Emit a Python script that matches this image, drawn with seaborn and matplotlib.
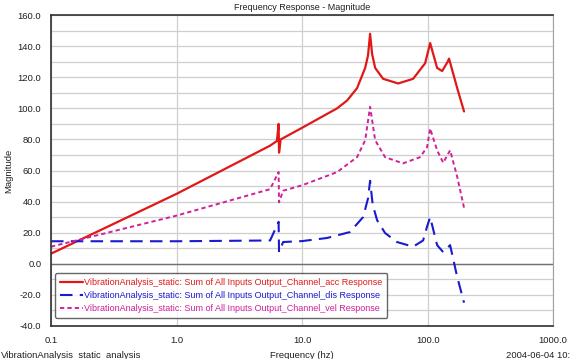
import numpy as np
import pandas as pd
import matplotlib
matplotlib.use("Agg")
import matplotlib.pyplot as plt
import seaborn as sns
from matplotlib.ticker import FixedLocator, MultipleLocator, FormatStrFormatter

# values
acc_freq = [0.1, 1.0, 5.56, 6.3, 6.5, 6.55, 6.75, 10, 19, 22.8, 27.4, 31.8, 33.5,
            34.8, 36.1, 38.2, 44.2, 58.2, 76.6, 95.5, 104.7, 119, 130.5, 145.6,
            148, 172, 195]
acc_mag = [6.5, 45, 76, 79, 90, 71.5, 80, 87.5, 100, 105, 113, 126, 134,
           148, 135, 126, 119, 116, 119, 129, 142, 126, 124, 130.5,
           132, 113, 98]

dis_freq = [0.1, 1.0, 5.56, 6.5, 6.55, 7.06, 10, 15.8, 24, 30.6, 33.5, 34.8,
            36.5, 39.6, 45.8, 57, 76.6, 92, 99, 104.7, 119, 133, 151, 172, 195]
dis_mag = [14.5, 14.5, 15, 27, 7.5, 14, 14.6, 16.6, 20.4, 30, 42, 53.4,
           38, 28, 19.8, 14, 11, 15, 24, 30, 12, 7.5, 12, -8.5, -25]

vel_freq = [0.1, 1.0, 5.56, 6.5, 6.55, 7.06, 10, 19, 27.4, 31.8, 34.8, 38.2,
            45.8, 63.6, 87, 99, 104.7, 119, 133, 151, 172, 195]
vel_mag = [11, 31, 48, 59, 39.5, 47, 50.5, 59, 68.6, 79.5, 101, 79.5,
           68.6, 64.6, 68.6, 75, 87, 73, 65, 73, 56, 36]

prefix = "VibrationAnalysis_static: Sum of All Inputs Output_Channel_"
labels = [prefix + "acc Response", prefix + "dis Response", prefix + "vel Response"]
colors = ["#e01818", "#1a1ad0", "#d0209a"]

sns.set_style("white")
plt.rcParams['font.family'] = ['Liberation Sans', 'DejaVu Sans']

fig = plt.figure(figsize=(5.7, 3.59), dpi=100)
ax = fig.add_axes([0.0895, 0.092, 0.881, 0.866])

sns.lineplot(x=acc_freq, y=acc_mag, ax=ax, color=colors[0], linewidth=1.6,
             label=labels[0])
sns.lineplot(x=dis_freq, y=dis_mag, ax=ax, color=colors[1], linewidth=1.5,
             linestyle=(0, (6, 3.5)), label=labels[1])
sns.lineplot(x=vel_freq, y=vel_mag, ax=ax, color=colors[2], linewidth=1.4,
             linestyle=(0, (2.2, 1.6)), label=labels[2])

ax.set_xscale("log")
ax.set_xlim(0.1, 1000)
ax.set_ylim(-40, 160)
ax.xaxis.set_major_locator(FixedLocator([0.1, 1, 10, 100, 1000]))
ax.xaxis.set_minor_locator(FixedLocator([]))
ax.xaxis.set_major_formatter(FormatStrFormatter("%.1f"))
ax.yaxis.set_major_locator(MultipleLocator(20))
ax.yaxis.set_minor_locator(MultipleLocator(10))
ax.yaxis.set_major_formatter(FormatStrFormatter("%.1f"))

ax.grid(True, which="both", axis="y", color="#cfcfcf", linewidth=0.9)
ax.grid(True, which="major", axis="x", color="#cfcfcf", linewidth=0.9)
ax.axhline(0, color="#707070", linewidth=1.0, zorder=1)
ax.set_axisbelow(True)

ax.tick_params(axis="both", which="both", direction="out", labelsize=6.8,
               colors="#202020", length=4, width=0.8)
ax.tick_params(axis="y", which="both", pad=3)
ax.tick_params(axis="x", which="major", pad=3)
for side in ["left", "bottom", "top"]:
    ax.spines[side].set_color("#303030")
    ax.spines[side].set_linewidth(1.2)
ax.spines["right"].set_color("#a0a0a0")

ax.set_xlabel("")
ax.set_ylabel("Magnitude", fontsize=6.8, color="#202020", labelpad=3)
ax.set_title("Frequency Response - Magnitude", fontsize=6.5, color="#202020", pad=4)

leg = ax.legend(loc="lower left", bbox_to_anchor=(0.008, 0.026), fontsize=6.45,
                frameon=True, fancybox=True, edgecolor="#404040",
                handlelength=2.6, handletextpad=0.1, borderpad=0.55,
                labelspacing=0.45, borderaxespad=0)
leg.get_frame().set_linewidth(1.0)
for txt, c in zip(leg.get_texts(), colors):
    txt.set_color(c)

fig.text(0.002, -0.002, "VibrationAnalysis_static_analysis", fontsize=6.8,
         color="#202020", ha="left", va="bottom")
fig.text(0.53, -0.002, "Frequency (hz)", fontsize=6.8, color="#202020",
         ha="center", va="bottom")
fig.text(1.0, -0.002, "2004-06-04 10:", fontsize=6.8, color="#202020",
         ha="right", va="bottom")

fig.savefig("out.png", dpi=100)
